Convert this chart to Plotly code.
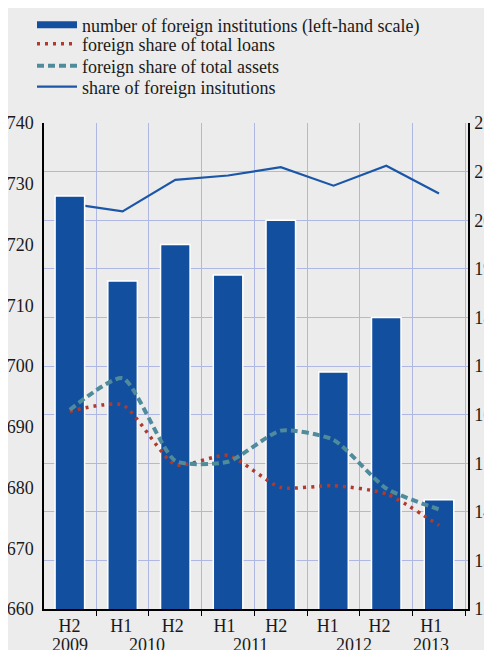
import plotly.graph_objects as go

# ---- data ----
periods = ["H2 2009", "H1 2010", "H2 2010", "H1 2011", "H2 2011", "H1 2012", "H2 2012", "H1 2013"]
half_labels = ["H2", "H1", "H2", "H1", "H2", "H1", "H2", "H1"]
label_index = [0, 1, 2, 3, 4, 5, 6, 7]
year_labels = ["2009", "2010", "2011", "2012", "2013"]
year_positions = [0, 1.5, 3.5, 5.5, 7]

num_foreign_institutions = [728, 714, 720, 715, 724, 699, 708, 678]
share_total_loans = [16.07, 16.2, 14.97, 15.16, 14.5, 14.54, 14.37, 13.72]
share_total_assets = [16.1, 16.75, 15.05, 15.03, 15.67, 15.48, 14.48, 14.05]
share_foreign_institutions = [20.34, 20.18, 20.83, 20.92, 21.09, 20.71, 21.12, 20.55]

names = [
    "number of foreign institutions (left-hand scale)",
    "foreign share of total loans",
    "foreign share of total assets",
    "share of foreign insitutions",
]

# ---- style ----
OFF = 8  # page offset (body margin) in x and y
W, H = 492 - OFF, 650 - OFF
BG = "#ECECEC"
GRID = "#AEB8E2"
BAR = "#12509F"
LINE = "#1B57A6"
RED = "#B23A2C"
TEAL = "#4F8B9A"
TXT = "#1a1a1a"
FONT = "Liberation Serif, Times New Roman, serif"

fig = go.Figure()

# solid line on base axis (drawn below bars)
fig.add_trace(go.Scatter(x=periods, y=share_foreign_institutions, mode="lines",
                         line=dict(color=LINE, width=2.2), name=names[3],
                         yaxis="y", legend="legend4"))
# bars on left-hand scale
fig.add_trace(go.Bar(x=periods, y=num_foreign_institutions,
                     marker=dict(color=BAR, line=dict(color="white", width=1.5)),
                     width=0.56, name=names[0], yaxis="y2", showlegend=False))
# legend entry for the bars
fig.add_trace(go.Scatter(x=[periods[0]], y=[None], mode="lines", line=dict(color=BAR, width=7),
                         name=names[0], yaxis="y3", legend="legend"))
fig.add_trace(go.Scatter(x=periods, y=share_total_loans, mode="lines",
                         line=dict(color=RED, width=3.5, dash="3px,5px", shape="spline", smoothing=0.6),
                         name=names[1], yaxis="y3", legend="legend2"))
fig.add_trace(go.Scatter(x=periods, y=share_total_assets, mode="lines",
                         line=dict(color=TEAL, width=4, dash="7px,4px", shape="spline", smoothing=0.6),
                         name=names[2], yaxis="y3", legend="legend3"))

legend_common = dict(xref="container", yref="container", x=(32 - OFF) / W, xanchor="left",
                     yanchor="middle", bgcolor="rgba(0,0,0,0)",
                     font=dict(family=FONT, size=18, color=TXT), itemwidth=40)
rows = [25 + 1.5, 45 + 0.5, 67 + 0.5, 88 + 0.5]

annotations = [dict(x=xp, y=-0.074, xref="x2", yref="paper", text=t, showarrow=False,
                    font=dict(family=FONT, size=18, color=TXT), yanchor="middle")
               for xp, t in zip(year_positions, year_labels)]

fig.update_layout(
    width=W, height=H,
    margin=dict(l=44 - OFF, r=W - (468 - OFF), t=123 - OFF, b=H - (609 - OFF), autoexpand=False),
    paper_bgcolor=BG, plot_bgcolor=BG,
    font=dict(family=FONT, size=18, color=TXT),
    legend=dict(legend_common, y=1 - (rows[0] - OFF - 1.5) / H),
    legend2=dict(legend_common, y=1 - (rows[1] - OFF - 1.5) / H),
    legend3=dict(legend_common, y=1 - (rows[2] - OFF - 1.5) / H),
    legend4=dict(legend_common, y=1 - (rows[3] - OFF - 1.5) / H),
    xaxis=dict(type="category", categoryorder="array", categoryarray=periods,
               tickvals=periods, ticktext=[""] * len(periods), tickson="boundaries",
               range=[-0.49, 7.55], showgrid=True, gridcolor=GRID, gridwidth=1.2,
               showline=True, linecolor="black", linewidth=1.5,
               ticks="outside", ticklen=5, tickcolor="black", tickwidth=1.2),
    xaxis2=dict(overlaying="x", anchor="y", side="bottom", range=[-0.494, 7.713],
                tickvals=label_index, ticktext=half_labels, showgrid=False, zeroline=False,
                showline=False, ticks="", ticklabelstandoff=4,
                tickfont=dict(family=FONT, size=18, color=TXT)),
    yaxis=dict(range=[12, 22], dtick=1, side="right", showgrid=True, gridcolor=GRID, gridwidth=1.2,
               showline=True, linecolor="black", linewidth=1.5, zeroline=False, ticks="",
               ticklabelstandoff=1, tickfont=dict(family=FONT, size=18, color=TXT)),
    yaxis2=dict(range=[660, 740], dtick=10, side="left", overlaying="y", showgrid=False,
                showline=True, linecolor="black", linewidth=1.5, zeroline=False, ticks="",
                ticklabelstandoff=5, tickfont=dict(family=FONT, size=18, color=TXT)),
    yaxis3=dict(range=[12, 22], overlaying="y", visible=False),
    annotations=annotations,
)

fig.write_html("out.html")
